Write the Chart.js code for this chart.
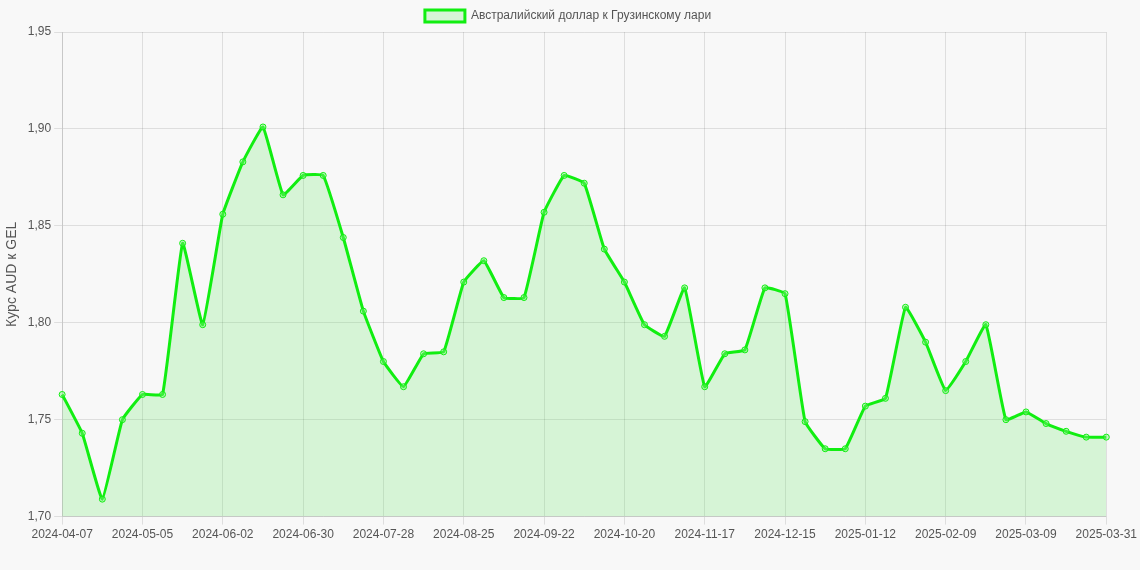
<!DOCTYPE html>
<html>
<head>
<meta charset="utf-8">
<script src="https://cdn.jsdelivr.net/npm/chart.js@4"></script>
<style>
  html, body { margin: 0; padding: 0; background: #f8f8f8; }
  #wrap { width: 1140px; height: 570px; }
</style>
</head>
<body>
<div id="wrap"><canvas id="c"></canvas></div>
<script>
// weekly dates
const dates = [
  '2024-04-07','2024-04-14','2024-04-21','2024-04-28','2024-05-05','2024-05-12','2024-05-19','2024-05-26',
  '2024-06-02','2024-06-09','2024-06-16','2024-06-23','2024-06-30','2024-07-07','2024-07-14','2024-07-21',
  '2024-07-28','2024-08-04','2024-08-11','2024-08-18','2024-08-25','2024-09-01','2024-09-08','2024-09-15',
  '2024-09-22','2024-09-29','2024-10-06','2024-10-13','2024-10-20','2024-10-27','2024-11-03','2024-11-10',
  '2024-11-17','2024-11-24','2024-12-01','2024-12-08','2024-12-15','2024-12-22','2024-12-29','2025-01-05',
  '2025-01-12','2025-01-19','2025-01-26','2025-02-02','2025-02-09','2025-02-16','2025-02-23','2025-03-02',
  '2025-03-09','2025-03-16','2025-03-23','2025-03-30','2025-03-31'
];

const audGel = [
  1.763, 1.743, 1.709, 1.750, 1.763, 1.763, 1.841, 1.799,
  1.856, 1.883, 1.901, 1.866, 1.876, 1.876, 1.844, 1.806,
  1.780, 1.767, 1.784, 1.785, 1.821, 1.832, 1.813, 1.813,
  1.857, 1.876, 1.872, 1.838, 1.821, 1.799, 1.793, 1.818,
  1.767, 1.784, 1.786, 1.818, 1.815, 1.749, 1.735, 1.735,
  1.757, 1.761, 1.808, 1.790, 1.765, 1.780, 1.799, 1.750,
  1.754, 1.748, 1.744, 1.741, 1.741
];

const font = { family: "'Liberation Sans', Arial, sans-serif", size: 12 };

new Chart(document.getElementById('c').getContext('2d'), {
    type: 'line',
    data: {
        labels: dates,
        datasets: [{
            label: 'Австралийский доллар к Грузинскому лари',
            data: audGel,
            borderColor: '#11ee11',
            backgroundColor: 'rgba(60, 230, 60, 0.18)',
            fill: true,
            borderWidth: 3,
            tension: 0.1,
            pointRadius: 3,
            pointBorderWidth: 1,
            pointBackgroundColor: 'rgba(120, 240, 120, 0.4)',
            pointBorderColor: '#11ee11'
        }]
    },
    options: {
        responsive: true,
        maintainAspectRatio: false,
        animation: false,
        layout: { padding: { right: 4, bottom: 25 } },
        plugins: {
            legend: {
                position: 'top',
                labels: { color: '#555', font: font, boxWidth: 40, boxHeight: 12 }
            },
            tooltip: { enabled: false }
        },
        scales: {
            x: {
                grid: { color: 'rgba(0,0,0,0.1)' },
                ticks: {
                    color: '#555',
                    font: font,
                    autoSkip: false,
                    maxRotation: 0,
                    callback: function(v, i) {
                        return (i % 4 === 0 || i === dates.length - 1) ? dates[i] : null;
                    }
                }
            },
            y: {
                min: 1.70,
                max: 1.95,
                grid: { color: 'rgba(0,0,0,0.1)' },
                ticks: {
                    stepSize: 0.05,
                    color: '#555',
                    font: font,
                    callback: v => v.toFixed(2).replace('.', ',')
                },
                title: { display: true, text: 'Курс AUD к GEL', color: '#555', font: { family: font.family, size: 14 } }
            }
        }
    }
});
</script>
</body>
</html>
